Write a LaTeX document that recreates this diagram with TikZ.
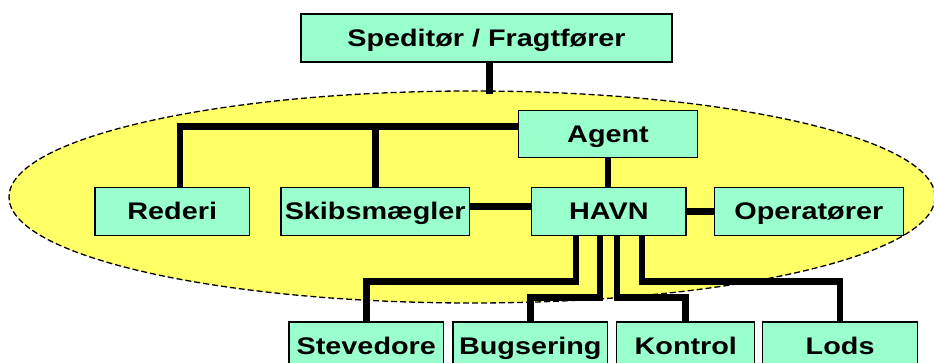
\documentclass[tikz,border=0pt]{standalone}
\usepackage{fontspec}
\setmainfont{Liberation Sans}[FakeStretch=1.2]
\definecolor{boxgreen}{RGB}{153,255,204}
\definecolor{zoneyellow}{RGB}{255,255,102}
\begin{document}
\begin{tikzpicture}[x=1pt,y=-1pt,line join=miter,
        box/.style={draw=black,line width=1.2pt,fill=boxgreen,inner sep=0pt,minimum height=48,
            text height=17.2pt,text depth=0pt,font=\bfseries\fontsize{24}{28}\selectfont},
        link/.style={line width=6.7pt},
        zone/.style={draw,fill=zoneyellow,line width=1.3pt,dash pattern=on 6pt off 3pt}]
    \useasboundingbox (0,0) rectangle (934,363);
    \draw[zone] (472,197) ellipse [x radius=463,y radius=106];
    \node[box,minimum width=371] (sped) at (486.5,38) {Speditør / Fragtfører};
    \node[box,minimum width=178.6,minimum height=46.6] (agent) at (608,134) {Agent};
    \node[box,minimum width=154.3] (rederi) at (172.2,211.4) {Rederi};
    \node[box,minimum width=188.3] (skib) at (375.2,211.4) {Skibsmægler};
    \node[box,minimum width=154.3] (havn) at (608.9,211.4) {HAVN};
    \node[box,minimum width=189] (oper) at (808.8,211.4) {Operatører};
    \node[box,minimum width=154.5] (stev) at (366.3,346) {Stevedore};
    \node[box,minimum width=154.5] (bugs) at (530.3,346) {Bugsering};
    \node[box,minimum width=138] (kont) at (685.8,346) {Kontrol};
    \node[box,minimum width=154.8] (lods) at (840.1,346) {Lods};
    \coordinate (top) at (489.5,94);
    \coordinate (bus) at (180,126.5);
    \coordinate (hi) at (0,281.7);
    \coordinate (lo) at (0,297.3);
    \draw[link] (sped.south -| top) -- (top);
    \draw[link] (agent.west |- bus) -- (bus) -- (bus |- rederi.north);
    \draw[link] (skib.north |- bus) -- (skib.north);
    \draw[link] (agent.south) -- (agent.south |- havn.north);
    \draw[link] ([yshift=5pt]skib.east) -- ([yshift=5pt]havn.west);
    \draw[link] (havn.east) -- (oper.west);
    \foreach \dx/\lev/\dest in {-33/hi/stev,-9/lo/bugs,8/lo/kont,33/hi/lods}
    \draw[link] ([xshift=\dx pt]havn.south) coordinate (p) -- (p |- \lev) -| (\dest.north);
\end{tikzpicture}
\end{document}
